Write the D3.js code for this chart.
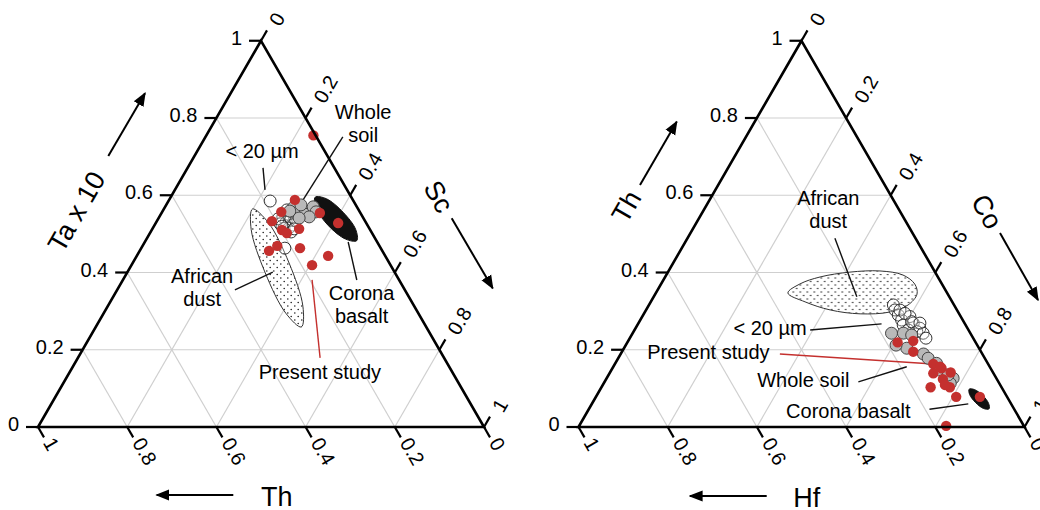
<!DOCTYPE html>
<html>
<head>
<meta charset="utf-8">
<script src="https://cdn.jsdelivr.net/npm/d3@7"></script>
<style>
body { margin: 0; background: #fff; }
svg { font-family: "Liberation Sans", Arial, Helvetica, sans-serif; }
</style>
</head>
<body>
<svg id="chart" width="1040" height="510"></svg>
<script>
// every composition is [top vertex, bottom-left vertex, bottom-right vertex]

// left diagram: Ta x 10 - Th - Sc
var taThSc_fine = [
	[0.585, 0.187, 0.228], [0.463, 0.215, 0.322], [0.544, 0.179, 0.277], [0.551, 0.164, 0.285],
	[0.539, 0.163, 0.298], [0.531, 0.178, 0.291], [0.523, 0.167, 0.310], [0.526, 0.194, 0.280],
	[0.515, 0.180, 0.305], [0.534, 0.155, 0.311], [0.515, 0.191, 0.294], [0.505, 0.180, 0.315],
	[0.539, 0.192, 0.269], [0.551, 0.144, 0.305], [0.562, 0.161, 0.277], [0.520, 0.193, 0.287],
	[0.513, 0.169, 0.318]
];
var taThSc_whole = [
	[0.567, 0.145, 0.288], [0.562, 0.131, 0.307], [0.551, 0.126, 0.323], [0.570, 0.098, 0.332],
	[0.557, 0.098, 0.345], [0.544, 0.120, 0.336], [0.541, 0.144, 0.315], [0.559, 0.156, 0.285],
	[0.575, 0.123, 0.302]
];
var taThSc_study = [
	[0.755, 0.005, 0.240], [0.588, 0.130, 0.282], [0.557, 0.176, 0.267], [0.533, 0.209, 0.258],
	[0.554, 0.091, 0.355], [0.528, 0.063, 0.409], [0.510, 0.198, 0.292], [0.502, 0.191, 0.307],
	[0.513, 0.158, 0.329], [0.469, 0.229, 0.302], [0.456, 0.254, 0.290], [0.463, 0.181, 0.356],
	[0.443, 0.128, 0.429], [0.419, 0.176, 0.405]
];
var taThSc_dust = [
	[0.565, 0.237, 0.199], [0.529, 0.219, 0.252], [0.425, 0.225, 0.351], [0.312, 0.250, 0.438],
	[0.259, 0.280, 0.461], [0.294, 0.297, 0.409], [0.399, 0.291, 0.310], [0.511, 0.266, 0.222]
];
var taThSc_basalt = [
	[0.595, 0.081, 0.324], [0.591, 0.058, 0.351], [0.556, 0.038, 0.406], [0.512, 0.032, 0.457],
	[0.482, 0.044, 0.473], [0.486, 0.067, 0.446], [0.521, 0.088, 0.392], [0.565, 0.093, 0.341]
];
var taThSc_notes = [
	{ lines: ["< 20 µm"], at: [0.715, 0.140, 0.145], from: [0.671, 0.160, 0.169], to: [0.614, 0.184, 0.202] },
	{ lines: ["Whole", "soil"], at: [0.786, -0.122, 0.336], from: [0.751, -0.059, 0.308], to: [0.583, 0.117, 0.300] },
	{ lines: ["African", "dust"], at: [0.360, 0.452, 0.188], from: [0.355, 0.381, 0.264], to: [0.401, 0.273, 0.326] },
	{ lines: ["Corona", "basalt"], at: [0.317, 0.116, 0.567], from: [0.381, 0.095, 0.525], to: [0.479, 0.065, 0.456] },
	{ lines: ["Present study"], at: [0.142, 0.297, 0.561], from: [0.179, 0.278, 0.543], to: [0.381, 0.195, 0.424], red: true }
];

// right diagram: Th - Hf - Co
var thHfCo_fine = [
	[0.316, 0.136, 0.548], [0.303, 0.139, 0.558], [0.290, 0.138, 0.572], [0.277, 0.137, 0.586],
	[0.286, 0.114, 0.600], [0.269, 0.115, 0.616], [0.264, 0.140, 0.596], [0.256, 0.107, 0.638],
	[0.247, 0.118, 0.635], [0.251, 0.135, 0.614], [0.243, 0.106, 0.652], [0.273, 0.117, 0.611],
	[0.303, 0.128, 0.570], [0.294, 0.121, 0.585], [0.269, 0.100, 0.631], [0.230, 0.106, 0.664]
];
var thHfCo_whole = [
	[0.243, 0.177, 0.581], [0.243, 0.150, 0.607], [0.238, 0.134, 0.628], [0.204, 0.162, 0.634],
	[0.189, 0.132, 0.679], [0.178, 0.127, 0.695], [0.165, 0.115, 0.721], [0.126, 0.097, 0.777],
	[0.113, 0.110, 0.777], [0.148, 0.119, 0.733], [0.135, 0.104, 0.762], [0.212, 0.182, 0.606]
];
var thHfCo_study = [
	[0.219, 0.175, 0.606], [0.223, 0.138, 0.639], [0.195, 0.152, 0.653], [0.163, 0.123, 0.714],
	[0.152, 0.110, 0.738], [0.139, 0.135, 0.726], [0.141, 0.095, 0.764], [0.124, 0.121, 0.755],
	[0.103, 0.116, 0.782], [0.109, 0.124, 0.768], [0.103, 0.159, 0.738], [0.078, 0.114, 0.807],
	[0.078, 0.061, 0.861], [0.003, 0.174, 0.822], [0.156, 0.111, 0.733]
];
var thHfCo_dust = [
	[0.347, 0.357, 0.296], [0.370, 0.318, 0.311], [0.388, 0.264, 0.347], [0.401, 0.191, 0.408],
	[0.404, 0.122, 0.474], [0.394, 0.076, 0.531], [0.370, 0.061, 0.569], [0.344, 0.069, 0.587],
	[0.316, 0.103, 0.581], [0.298, 0.153, 0.550], [0.293, 0.222, 0.485], [0.303, 0.284, 0.413],
	[0.324, 0.330, 0.346]
];
var thHfCo_basalt = [
	[0.098, 0.075, 0.827], [0.097, 0.064, 0.839], [0.082, 0.053, 0.865], [0.061, 0.050, 0.889],
	[0.047, 0.056, 0.897], [0.048, 0.068, 0.884], [0.063, 0.078, 0.859], [0.084, 0.081, 0.835]
];
var thHfCo_notes = [
	{ lines: ["African", "dust"], at: [0.562, 0.159, 0.279], from: [0.489, 0.181, 0.331], to: [0.337, 0.207, 0.455] },
	{ lines: ["< 20 µm"], at: [0.256, 0.443, 0.302], from: [0.251, 0.355, 0.394], to: [0.267, 0.187, 0.546] },
	{ lines: ["Present study"], at: [0.195, 0.612, 0.194], from: [0.189, 0.454, 0.357], to: [0.163, 0.123, 0.714], red: true },
	{ lines: ["Whole soil"], at: [0.122, 0.435, 0.443], from: [0.117, 0.314, 0.569], to: [0.156, 0.186, 0.658] },
	{ lines: ["Corona basalt"], at: [0.042, 0.374, 0.584], from: [0.046, 0.190, 0.764], to: [0.060, 0.096, 0.844] }
];

var tickValues = [0, 0.2, 0.4, 0.6, 0.8, 1];
var gridValues = [0.2, 0.4, 0.6, 0.8];

var side = 446;
var red = "#c4302e";

var plots = [
	{
		origin: [38, 427],
		fine: taThSc_fine, whole: taThSc_whole, study: taThSc_study,
		dust: taThSc_dust, basalt: taThSc_basalt, notes: taThSc_notes,
		top: { label: "Ta x 10", at: [38.7, -215.3], arrow: [[70.3, -271], [107, -333.7]] },
		right: { label: "Sc", at: [400.3, -230.3], arrow: [[413.7, -208.7], [454.7, -138.7]] },
		bottom: { label: "Th", at: [238.7, 69.5], arrow: [[195.3, 68], [118.7, 68]] }
	},
	{
		origin: [578.5, 427],
		fine: thHfCo_fine, whole: thHfCo_whole, study: thHfCo_study,
		dust: thHfCo_dust, basalt: thHfCo_basalt, notes: thHfCo_notes,
		top: { label: "Th", at: [48.2, -220.3], arrow: [[61.5, -242], [98.2, -305.3]] },
		right: { label: "Co", at: [408.2, -215.3], arrow: [[421.5, -194], [459.5, -127]] },
		bottom: { label: "Hf", at: [228.2, 70.5], arrow: [[188.2, 69], [111.5, 69]] }
	}
];

var svg = d3.select("#chart");
var defs = svg.append("defs");

// stipple for the dust fields
var pat = defs.append("pattern")
	.attr("id", "stipple")
	.attr("patternUnits", "userSpaceOnUse")
	.attr("width", 7).attr("height", 7);
pat.append("rect").attr("width", 7).attr("height", 7).attr("fill", "#fff");
pat.append("circle").attr("cx", 1.2).attr("cy", 1.5).attr("r", 0.75).attr("fill", "#111");
pat.append("circle").attr("cx", 4.8).attr("cy", 5).attr("r", 0.75).attr("fill", "#111");

defs.append("marker")
	.attr("id", "head")
	.attr("viewBox", "0 0 10 10")
	.attr("refX", 9).attr("refY", 5)
	.attr("markerWidth", 7).attr("markerHeight", 7)
	.attr("markerUnits", "strokeWidth")
	.attr("orient", "auto")
	.append("path")
	.attr("d", "M0,1 L10,5 L0,9 z")
	.attr("fill", "#000");

var x = d3.scaleLinear().domain([0, 1]).range([0, side]);
var y = d3.scaleLinear().domain([0, 1]).range([0, -side * Math.sqrt(3) / 2]);

// barycentric -> cartesian
function px(d) {
	var s = d[0] + d[1] + d[2];
	return x((d[2] + d[0] / 2) / s);
}
function py(d) {
	var s = d[0] + d[1] + d[2];
	return y(d[0] / s);
}

var field = d3.line()
	.x(px).y(py)
	.curve(d3.curveCatmullRomClosed.alpha(0.5));

plots.forEach(function(p) {
	var g = svg.append("g").attr("transform", "translate(" + p.origin[0] + "," + p.origin[1] + ")");

	// grid
	var grid = [];
	gridValues.forEach(function(v) {
		grid.push([[v, 1 - v, 0], [v, 0, 1 - v]]);
		grid.push([[1 - v, v, 0], [0, v, 1 - v]]);
		grid.push([[1 - v, 0, v], [0, 1 - v, v]]);
	});
	g.append("g").selectAll("line").data(grid).enter().append("line")
		.attr("x1", function(d) { return px(d[0]); })
		.attr("y1", function(d) { return py(d[0]); })
		.attr("x2", function(d) { return px(d[1]); })
		.attr("y2", function(d) { return py(d[1]); })
		.attr("stroke", "#cfcfcf")
		.attr("stroke-width", 1.2);

	// fields
	g.append("path").datum(p.dust)
		.attr("d", field)
		.attr("fill", "url(#stipple)")
		.attr("stroke", "#333")
		.attr("stroke-width", 1);
	g.append("path").datum(p.basalt)
		.attr("d", field)
		.attr("fill", "#111")
		.attr("stroke", "#111")
		.attr("stroke-width", 1);

	// leader lines
	g.append("g").selectAll("line").data(p.notes).enter().append("line")
		.attr("x1", function(d) { return px(d.from); })
		.attr("y1", function(d) { return py(d.from); })
		.attr("x2", function(d) { return px(d.to); })
		.attr("y2", function(d) { return py(d.to); })
		.attr("stroke", function(d) { return d.red ? red : "#111"; })
		.attr("stroke-width", 1.4);

	// samples
	g.append("g").selectAll("circle").data(p.fine).enter().append("circle")
		.attr("cx", px).attr("cy", py).attr("r", 6)
		.attr("fill", "#fff").attr("fill-opacity", 0.25)
		.attr("stroke", "#333").attr("stroke-width", 1);
	g.append("g").selectAll("circle").data(p.whole).enter().append("circle")
		.attr("cx", px).attr("cy", py).attr("r", 6)
		.attr("fill", "#b9b9b9")
		.attr("stroke", "#444").attr("stroke-width", 1);
	g.append("g").selectAll("circle").data(p.study).enter().append("circle")
		.attr("cx", px).attr("cy", py).attr("r", 5.2)
		.attr("fill", red);

	// frame
	g.append("path")
		.datum([[1, 0, 0], [0, 1, 0], [0, 0, 1]])
		.attr("d", d3.line().x(px).y(py).curve(d3.curveLinearClosed))
		.attr("fill", "none")
		.attr("stroke", "#000")
		.attr("stroke-width", 2.6)
		.attr("stroke-linejoin", "miter");

	// ticks: left edge (top component), right edge, bottom edge
	var tk = 12;
	var c60 = 0.5, s60 = Math.sqrt(3) / 2;
	var axes = [
		{ at: function(v) { return [v, 1 - v, 0]; }, dir: [-1, 0] },
		{ at: function(v) { return [1 - v, 0, v]; }, dir: [c60, -s60] },
		{ at: function(v) { return [0, v, 1 - v]; }, dir: [c60, s60] }
	];
	axes.forEach(function(ax, i) {
		var t = g.append("g").selectAll("g").data(tickValues).enter().append("g")
			.attr("transform", function(v) {
				var d = ax.at(v);
				return "translate(" + px(d) + "," + py(d) + ")";
			});
		t.append("line")
			.attr("x2", ax.dir[0] * tk).attr("y2", ax.dir[1] * tk)
			.attr("stroke", "#000").attr("stroke-width", 2.2);
		var lab = t.append("text")
			.attr("font-size", 20)
			.attr("dominant-baseline", "central")
			.text(function(v) { return String(v); });
		if (i === 0) {
			lab.attr("x", -tk - 7).attr("y", -3).attr("text-anchor", "end");
		} else if (i === 1) {
			lab.attr("text-anchor", "start")
				.attr("transform", "translate(" + ax.dir[0] * (tk + 9) + "," + ax.dir[1] * (tk + 9) + ") rotate(-60)")
				.attr("dy", 3);
		} else {
			lab.attr("text-anchor", "start")
				.attr("transform", "translate(" + ax.dir[0] * (tk + 4) + "," + ax.dir[1] * (tk + 4) + ") rotate(60)")
				.attr("dy", -3);
		}
	});

	// axis titles and arrows
	[["top", -60], ["right", 60], ["bottom", 0]].forEach(function(k) {
		var a = p[k[0]];
		g.append("text")
			.attr("transform", "translate(" + a.at[0] + "," + a.at[1] + ") rotate(" + k[1] + ")")
			.attr("text-anchor", "middle")
			.attr("dominant-baseline", "central")
			.attr("font-size", 27)
			.text(a.label);
		g.append("line")
			.attr("x1", a.arrow[0][0]).attr("y1", a.arrow[0][1])
			.attr("x2", a.arrow[1][0]).attr("y2", a.arrow[1][1])
			.attr("stroke", "#000").attr("stroke-width", 2)
			.attr("marker-end", "url(#head)");
	});

	// annotation labels
	var lh = 23;
	var notes = g.append("g").selectAll("text").data(p.notes).enter().append("text")
		.attr("text-anchor", "middle")
		.attr("dominant-baseline", "central")
		.attr("font-size", 20)
		.attr("x", function(d) { return px(d.at); })
		.attr("y", function(d) { return py(d.at) - (d.lines.length - 1) * lh / 2; });
	notes.selectAll("tspan").data(function(d) {
		return d.lines.map(function(l) { return { text: l, x: px(d.at) }; });
	}).enter().append("tspan")
		.attr("x", function(d) { return d.x; })
		.attr("dy", function(d, i) { return i === 0 ? 0 : lh; })
		.text(function(d) { return d.text; });
});
</script>
</body>
</html>
